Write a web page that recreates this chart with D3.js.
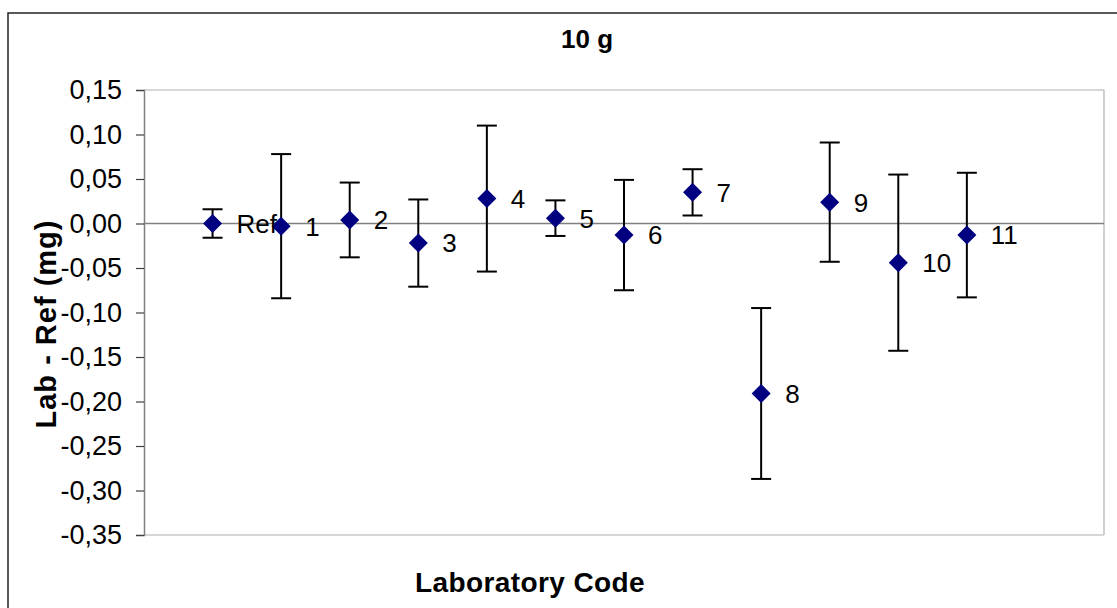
<!DOCTYPE html>
<html>
<head>
<meta charset="utf-8">
<script src="https://cdn.jsdelivr.net/npm/d3@7"></script>
<style>
  body { margin: 0; background: #fff; }
  svg { display: block; font-family: "Liberation Sans", Arial, sans-serif; }
</style>
</head>
<body>
<svg id="chart" width="1117" height="608"></svg>
<script>
// lab codes, in plotting order
const codes = ["Ref", "1", "2", "3", "4", "5", "6", "7", "8", "9", "10", "11"];
// Lab - Ref (mg)
const values = [0.000, -0.003, 0.004, -0.022, 0.028, 0.006, -0.013, 0.035, -0.191, 0.024, -0.044, -0.013];
// uncertainty (half length of the error bar)
const errors = [0.016, 0.081, 0.042, 0.049, 0.082, 0.020, 0.062, 0.026, 0.096, 0.067, 0.099, 0.070];
const yTicks = [0.15, 0.10, 0.05, 0.00, -0.05, -0.10, -0.15, -0.20, -0.25, -0.30, -0.35];

const svg = d3.select("#chart");

const plot = { left: 144, top: 90, right: 1104, bottom: 535 };

const x = d3.scaleLinear().domain([0, 14]).range([plot.left, plot.right]);
const y = d3.scaleLinear().domain([-0.35, 0.15]).range([plot.bottom, plot.top]);

const fmt = d3.formatLocale({decimal: ",", thousands: ".", grouping: [3], currency: ["", ""], minus: "-"}).format(".2f");

const data = codes.map((c, i) => ({code: c, pos: i + 1, v: values[i], e: errors[i]}));

// outer chart border (runs off the picture on the right and bottom)
svg.append("rect")
  .attr("x", 8).attr("y", 13)
  .attr("width", 1200).attr("height", 700)
  .attr("fill", "none").attr("stroke", "#222").attr("stroke-width", 1.5);

// plot area frame
svg.append("line").attr("x1", plot.left).attr("x2", plot.right).attr("y1", plot.top).attr("y2", plot.top)
  .attr("stroke", "#b0b0b0").attr("stroke-width", 1.2);
svg.append("line").attr("x1", plot.right).attr("x2", plot.right).attr("y1", plot.top).attr("y2", plot.bottom)
  .attr("stroke", "#b0b0b0").attr("stroke-width", 1.2);
svg.append("line").attr("x1", plot.left).attr("x2", plot.right).attr("y1", plot.bottom).attr("y2", plot.bottom)
  .attr("stroke", "#c8c8c8").attr("stroke-width", 1.5);

// zero line
svg.append("line")
  .attr("x1", plot.left).attr("x2", plot.right)
  .attr("y1", y(0)).attr("y2", y(0))
  .attr("stroke", "#808080").attr("stroke-width", 1.5);

// y axis
const yAxis = svg.append("g")
  .attr("transform", `translate(${plot.left},0)`)
  .call(d3.axisLeft(y).tickValues(yTicks).tickFormat(fmt).tickSize(8).tickPadding(14));
yAxis.select(".domain").attr("stroke", "#808080").attr("stroke-width", 1.5);
yAxis.selectAll(".tick line").attr("stroke", "#404040").attr("stroke-width", 1.2);
yAxis.selectAll(".tick text")
  .attr("font-family", "Liberation Sans, Arial, sans-serif")
  .attr("font-size", 27).attr("fill", "#000");

// error bars
const bars = svg.append("g").attr("class", "errbars")
  .selectAll("g").data(data).enter().append("g");
bars.append("line")
  .attr("x1", d => x(d.pos)).attr("x2", d => x(d.pos))
  .attr("y1", d => y(d.v + d.e)).attr("y2", d => y(d.v - d.e))
  .attr("stroke", "#000").attr("stroke-width", 2);
bars.append("line")
  .attr("x1", d => x(d.pos) - 10).attr("x2", d => x(d.pos) + 10)
  .attr("y1", d => y(d.v + d.e)).attr("y2", d => y(d.v + d.e))
  .attr("stroke", "#000").attr("stroke-width", 2);
bars.append("line")
  .attr("x1", d => x(d.pos) - 10).attr("x2", d => x(d.pos) + 10)
  .attr("y1", d => y(d.v - d.e)).attr("y2", d => y(d.v - d.e))
  .attr("stroke", "#000").attr("stroke-width", 2);

// diamond markers
svg.append("g").attr("class", "points")
  .selectAll("path").data(data).enter().append("path")
  .attr("d", "M0,-9.5L9.5,0L0,9.5L-9.5,0Z")
  .attr("transform", d => `translate(${x(d.pos)},${y(d.v)})`)
  .attr("fill", "#000080");

// point labels
svg.append("g").attr("class", "labels")
  .selectAll("text").data(data).enter().append("text")
  .attr("x", d => x(d.pos) + 24)
  .attr("y", d => y(d.v))
  .attr("dy", "0.36em")
  .attr("font-size", 26)
  .text(d => d.code);

// titles
svg.append("text")
  .attr("x", 587).attr("y", 48)
  .attr("text-anchor", "middle")
  .attr("font-size", 26).attr("font-weight", "bold")
  .text("10 g");

svg.append("text")
  .attr("x", 530).attr("y", 592)
  .attr("text-anchor", "middle")
  .attr("font-size", 28).attr("font-weight", "bold")
  .attr("letter-spacing", 0.4)
  .text("Laboratory Code");

svg.append("text")
  .attr("transform", "translate(56,324) rotate(-90)")
  .attr("text-anchor", "middle")
  .attr("font-size", 29).attr("font-weight", "bold")
  .attr("letter-spacing", 1)
  .text("Lab - Ref (mg)");
</script>
</body>
</html>
